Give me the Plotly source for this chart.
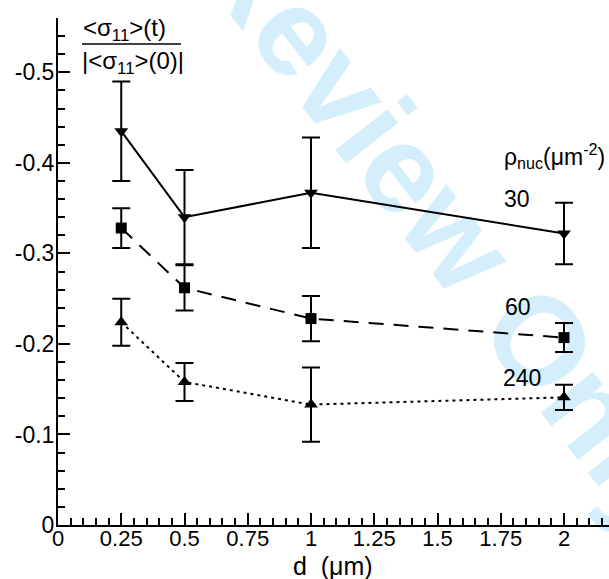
import math
import plotly.graph_objects as go

# Spacing d (um) and normalised stress for each nucleation density
d_um = [0.25, 0.5, 1.0, 2.0]

rho_labels = ["30", "60", "240"]

stress_30 = [-0.435, -0.340, -0.367, -0.322]
err_30 = [0.055, 0.052, 0.061, 0.034]

stress_60 = [-0.328, -0.262, -0.228, -0.207]
err_60 = [0.022, 0.025, 0.025, 0.016]

stress_240 = [-0.224, -0.158, -0.133, -0.141]
err_240 = [0.026, 0.021, 0.041, 0.014]

x_ticks = [0, 0.25, 0.5, 0.75, 1, 1.25, 1.5, 1.75, 2]
x_ticktext = ["0", "0.25", "0.5", "0.75", "1", "1.25", "1.5", "1.75", "2"]
y_ticks = [0, -0.1, -0.2, -0.3, -0.4, -0.5]
y_ticktext = ["0", "-0.1", "-0.2", "-0.3", "-0.4", "-0.5"]

W, H = 609, 579
ML, MR, MT, MB = 58, 0, 18, 54
PW, PH = W - ML - MR, H - MT - MB


def px(x):
    return (x - ML) / PW


def py(y):
    return (H - MB - y) / PH


FONT = "Liberation Sans, Arial, Helvetica, sans-serif"
BLACK = "#000000"

fig = go.Figure()

series = [
    (stress_30, err_30, "triangle-down", 12, "solid"),
    (stress_60, err_60, "square", 11, "15px,10px"),
    (stress_240, err_240, "triangle-up", 12, "3px,4px"),
]
for (vals, errs, sym, size, dash), name in zip(series, rho_labels):
    fig.add_trace(go.Scatter(
        x=d_um, y=vals, name=name, mode="lines+markers",
        line=dict(color=BLACK, width=2, dash=dash),
        marker=dict(symbol=sym, size=size, color=BLACK),
        error_y=dict(type="data", array=errs, visible=True,
                     color=BLACK, thickness=2, width=9),
        showlegend=False,
    ))

# Light "For Review Only" stamp behind the data
cx, cy, ang = 389, 128, 52
ux, uy = math.cos(math.radians(ang)), math.sin(math.radians(ang))
fig.add_shape(
    type="line", xref="paper", yref="paper", layer="below",
    x0=px(cx - 80 * ux), y0=py(cy - 80 * uy),
    x1=px(cx + 80 * ux), y1=py(cy + 80 * uy),
    line=dict(color="rgba(0,0,0,0)", width=0),
    label=dict(text="<b>For Review Only</b>", textposition="middle",
               yanchor="middle", xanchor="center", padding=0,
               textangle=ang,
               font=dict(family=FONT, size=125, color="#d4effb")),
)

annotations = []
# y-axis label written as a fraction
annotations.append(dict(text="&lt;σ<sub>11</sub>&gt;(t)", x=px(124), y=py(29),
                        xanchor="center", yanchor="middle"))
annotations.append(dict(text="|&lt;σ<sub>11</sub>&gt;(0)|", x=px(133), y=py(62),
                        xanchor="center", yanchor="middle"))
fig.add_shape(type="line", xref="paper", yref="paper",
              x0=px(82), x1=px(181), y0=py(44), y1=py(44),
              line=dict(color=BLACK, width=1.5))

# x-axis title
annotations.append(dict(text="d  (μm)", x=px(333), y=py(566),
                        xanchor="center", yanchor="middle",
                        font=dict(family=FONT, size=25, color=BLACK)))

# density labels beside the curves
annotations.append(dict(text="ρ<sub>nuc</sub>(μm<sup>-2</sup>)", x=px(502), y=py(156),
                        xanchor="left", yanchor="middle",
                        font=dict(family=FONT, size=23, color=BLACK)))
for lab, (lx, ly) in zip(rho_labels, [(502, 199), (503, 307), (501, 378)]):
    annotations.append(dict(text=lab, x=px(lx), y=py(ly),
                            xanchor="left", yanchor="middle",
                            font=dict(family=FONT, size=23, color=BLACK)))

for a in annotations:
    a.setdefault("font", dict(family=FONT, size=24, color=BLACK))
    a.update(xref="paper", yref="paper", showarrow=False)

fig.update_layout(
    width=W, height=H,
    margin=dict(l=ML, r=MR, t=MT, b=MB, pad=0),
    paper_bgcolor="white", plot_bgcolor="rgba(0,0,0,0)",
    font=dict(family=FONT, size=22, color=BLACK),
    annotations=annotations,
    showlegend=False,
)
fig.update_xaxes(
    range=[0, PW / 253.0], showgrid=False, zeroline=False,
    showline=True, linecolor=BLACK, linewidth=2,
    tickmode="array", tickvals=x_ticks, ticktext=x_ticktext,
    ticks="inside", ticklen=12, tickwidth=2, tickcolor=BLACK,
    ticklabelstandoff=-7,
    tickfont=dict(family=FONT, size=22, color=BLACK),
    minor=dict(tickmode="linear", tick0=0, dtick=0.05, ticks="inside",
               ticklen=7, tickwidth=1.5, tickcolor=BLACK, showgrid=False),
)
fig.update_yaxes(
    range=[0, -0.56], showgrid=False, zeroline=False,
    showline=True, linecolor=BLACK, linewidth=2,
    tickmode="array", tickvals=y_ticks, ticktext=y_ticktext,
    ticks="inside", ticklen=12, tickwidth=2, tickcolor=BLACK,
    ticklabelstandoff=-3,
    tickfont=dict(family=FONT, size=23, color=BLACK),
    minor=dict(tickmode="linear", tick0=0, dtick=0.02, ticks="inside",
               ticklen=7, tickwidth=1.5, tickcolor=BLACK, showgrid=False),
)

fig.write_html("out.html")
